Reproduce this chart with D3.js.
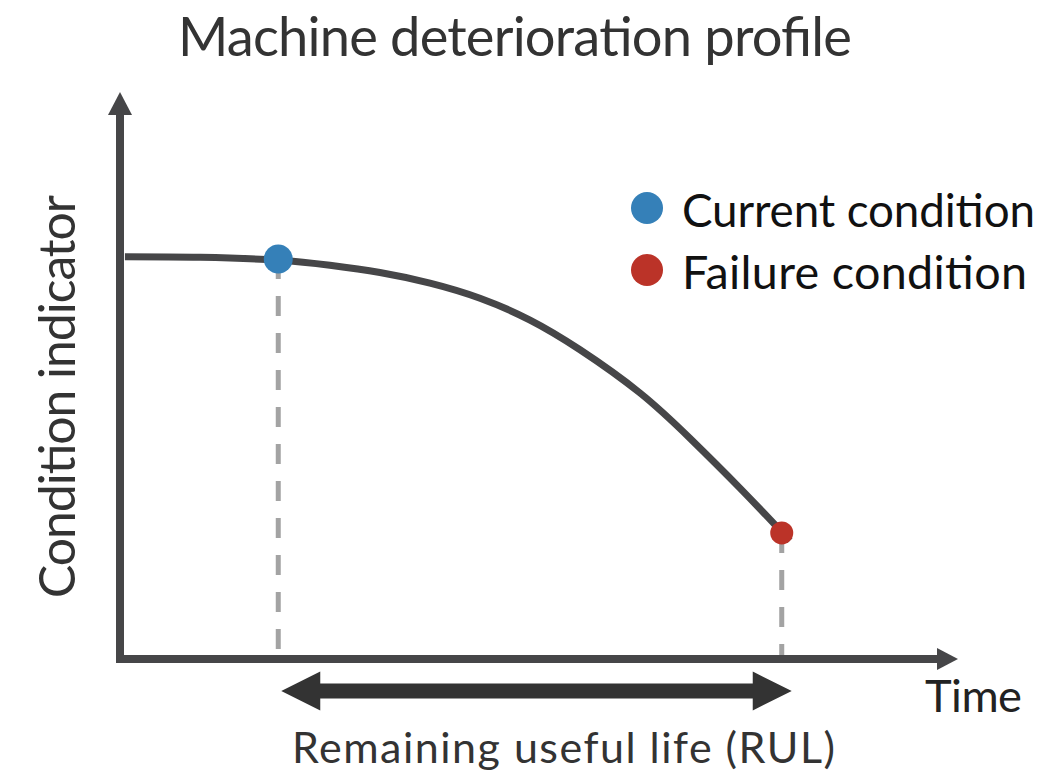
<!DOCTYPE html>
<html>
<head>
<meta charset="utf-8">
<script src="https://cdn.jsdelivr.net/npm/d3@7"></script>
<style>
  html, body { margin: 0; padding: 0; background: #fff; }
  svg { display: block; }
  text { font-family: "Lato", "Open Sans", sans-serif; font-weight: 400; }
</style>
</head>
<body>
<div id="chart"></div>
<script>
// ---- data ----
const titleText = "Machine deterioration profile";
const yLabel = "Condition indicator";
const xLabel = "Time";
const rulLabel = "Remaining useful life (RUL)";

// deterioration curve (time units 0-100, condition units 0-100)
const curveTime = [0.6, 9.8, 19.3, 25.6, 31.7, 37.8, 43.9, 50.0, 56.1, 63.4, 69.5, 75.6, 80.1, 81.7];
const curveCond = [72.0, 71.9, 71.4, 70.5, 69.2, 67.3, 64.6, 60.7, 55.4, 47.7, 39.6, 30.7, 23.8, 21.3];

// marked conditions
const markerNames = ["Current condition", "Failure condition"];
const markerTime = [19.3, 80.7];
const markerCond = [71.6, 22.7];

// ---- styles ----
const markerColors = ["#3580b8", "#bb3328"];
const markerRadius = [14.5, 11.5];
const axisColor = "#464648";
const textColor = "#333";

const W = 1060, H = 779;
const svg = d3.select("#chart").append("svg").attr("width", W).attr("height", H);

const x = d3.scaleLinear().domain([0, 100]).range([120, 940]);
const y = d3.scaleLinear().domain([0, 100]).range([660, 100]);

const x0 = x(0), y0 = y(0) - 1;
const yTip = 92, xTip = 958;

// helper: grow font part-way toward target width, then fit by spacing
function fit(sel, width) {
  const node = sel.node();
  const fs = +sel.attr("font-size");
  const w = node.getComputedTextLength();
  if (w > 0) {
    const k = Math.sqrt(width / w);
    sel.attr("font-size", fs * k);
  }
  sel.attr("textLength", width).attr("lengthAdjust", "spacing");
  return sel;
}

// axes
svg.append("line").attr("x1", x0).attr("x2", x0).attr("y1", y0 + 4).attr("y2", yTip + 20)
  .attr("stroke", axisColor).attr("stroke-width", 8);
svg.append("path")
  .attr("d", `M${x0},${yTip} L${x0 + 12},${yTip + 23} L${x0 - 12},${yTip + 23} Z`)
  .attr("fill", axisColor);
svg.append("line").attr("x1", x0 - 4).attr("x2", xTip - 20).attr("y1", y0).attr("y2", y0)
  .attr("stroke", axisColor).attr("stroke-width", 8);
svg.append("path")
  .attr("d", `M${xTip},${y0} L${xTip - 21},${y0 - 11} L${xTip - 21},${y0 + 11} Z`)
  .attr("fill", axisColor);

// dashed drop lines
const markers = markerNames.map((n, i) => ({ name: n, t: markerTime[i], c: markerCond[i], color: markerColors[i], r: markerRadius[i] }));
svg.selectAll(".drop").data(markers).enter().append("line")
  .attr("x1", d => x(d.t)).attr("x2", d => x(d.t))
  .attr("y1", d => y(d.c)).attr("y2", y0 - 4)
  .attr("stroke", "#a3a3a3").attr("stroke-width", 5)
  .attr("stroke-dasharray", "20 17");

// curve
const pts = curveTime.map((t, i) => [t, curveCond[i]]);
svg.append("path")
  .attr("d", d3.line().x(d => x(d[0])).y(d => y(d[1])).curve(d3.curveNatural)(pts))
  .attr("fill", "none").attr("stroke", axisColor).attr("stroke-width", 7);

// markers
svg.selectAll(".dot").data(markers).enter().append("circle")
  .attr("cx", d => x(d.t)).attr("cy", d => y(d.c)).attr("r", d => d.r)
  .attr("fill", d => d.color);

// RUL double arrow
{
  const ay = 691, xa = x(markerTime[0]) + 3, xb = x(markerTime[1]) + 10;
  const hl = 39, hh = 19.5, sh = 7.5;
  svg.append("path")
    .attr("d", `M${xa},${ay} L${xa + hl},${ay - hh} L${xa + hl},${ay - sh} L${xb - hl},${ay - sh} L${xb - hl},${ay - hh} L${xb},${ay} L${xb - hl},${ay + hh} L${xb - hl},${ay + sh} L${xa + hl},${ay + sh} L${xa + hl},${ay + hh} Z`)
    .attr("fill", "#333");
}

// legend
const leg = svg.selectAll(".leg").data(markers).enter().append("g")
  .attr("transform", (d, i) => `translate(647,${208 + i * 62})`);
leg.append("circle").attr("r", 16).attr("fill", d => d.color);
leg.append("text").attr("x", 35).attr("y", 19).attr("font-size", 46).attr("fill", "#111")
  .text(d => d.name)
  .each(function (d, i) { fit(d3.select(this), [353, 345][i]); });

// title
fit(svg.append("text").attr("x", 178).attr("y", 56).attr("font-size", 56).attr("fill", textColor)
  .text(titleText), 674);

// y label
fit(svg.append("text").attr("transform", "translate(75,598) rotate(-90)")
  .attr("font-size", 52).attr("fill", textColor).text(yLabel), 403);

// x label
fit(svg.append("text").attr("x", 925).attr("y", 712).attr("font-size", 46).attr("fill", "#222")
  .text(xLabel), 97);

// RUL label
fit(svg.append("text").attr("x", 292).attr("y", 763).attr("font-size", 40).attr("fill", textColor)
  .text(rulLabel), 543);
</script>
</body>
</html>
